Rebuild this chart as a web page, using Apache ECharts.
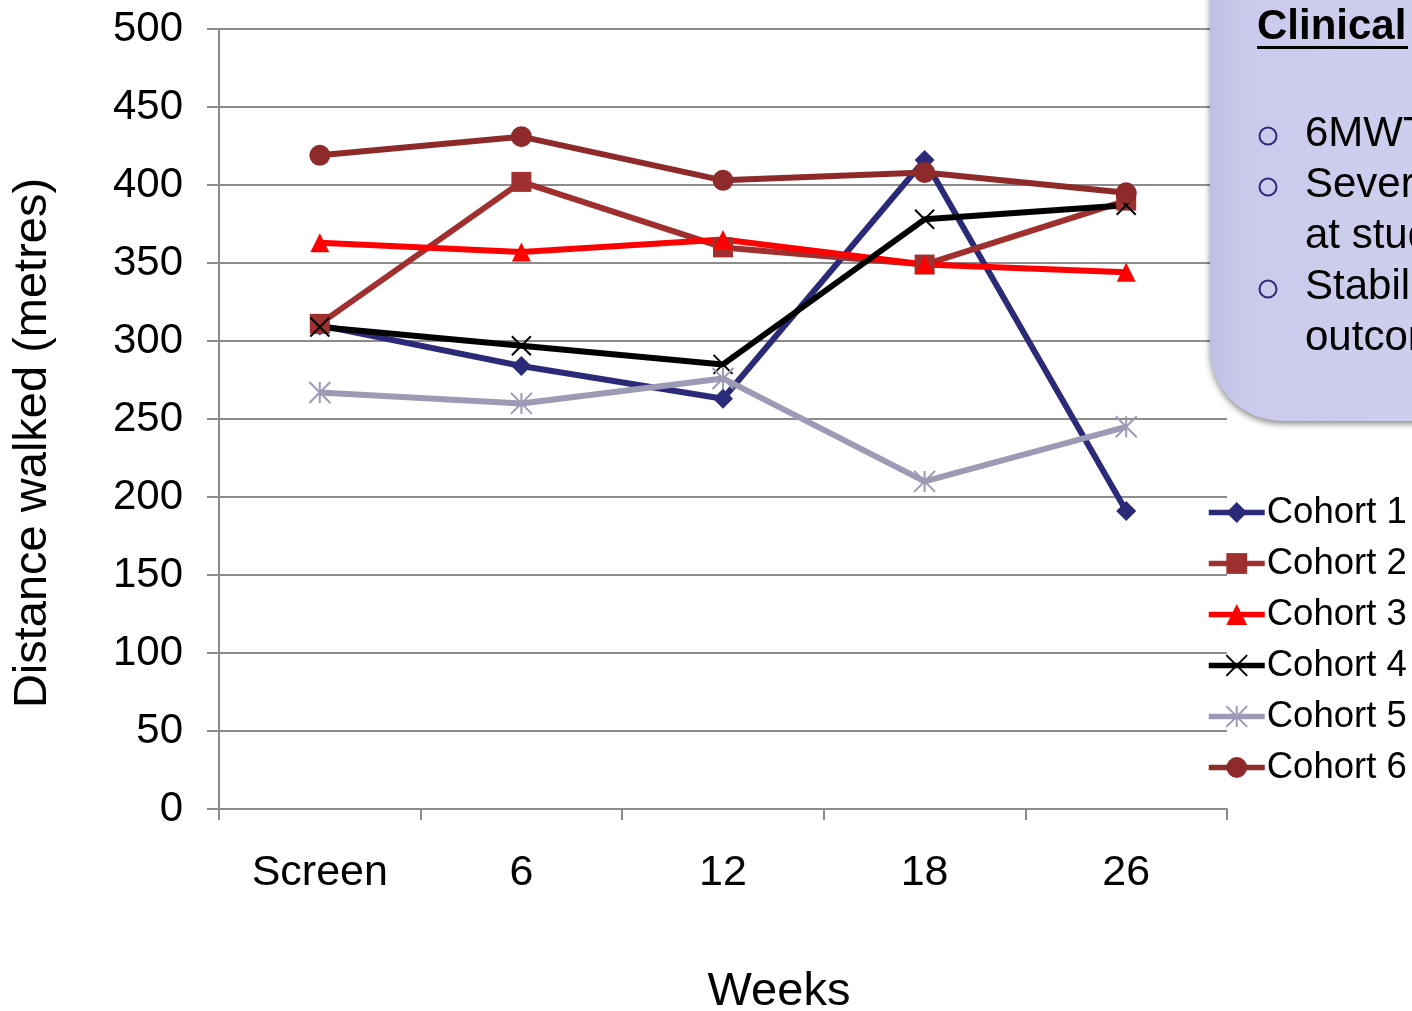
<!DOCTYPE html>
<html>
<head>
<meta charset="utf-8">
<title>Distance walked by cohort</title>
<script src="https://cdn.jsdelivr.net/npm/echarts@6/dist/echarts.min.js"></script>
<style>
  html, body { margin: 0; padding: 0; background: #ffffff; }
  #chart { width: 1412px; height: 1011px; }
</style>
</head>
<body>
<div id="chart"></div>
<script>
// Visit weeks along the x axis
const weeks = ['Screen', '6', '12', '18', '26'];

// Six-minute walk distance (metres) per cohort at each visit
const cohort1 = [310, 284, 263, 416, 191];
const cohort2 = [311, 402, 360, 349, 390];
const cohort3 = [363, 357, 365, 349, 344];
const cohort4 = [309, 297, 285, 378, 387];
const cohort5 = [267, 260, 276, 210, 245];
const cohort6 = [419, 431, 403, 408, 395];

const cohortNames = ['Cohort 1', 'Cohort 2', 'Cohort 3', 'Cohort 4', 'Cohort 5', 'Cohort 6'];

// Callout text lines
const calloutTitle = 'Clinical outcomes';
const calloutLines = ['6MWT', 'Severe', 'at study', 'Stability', 'outcome'];
const calloutBullets = [true, true, false, true, false];

const FONT = '"Liberation Sans", Arial, Helvetica, sans-serif';
const GRID = '#8c8c8c';

const crossPath = 'path://M0,0L10,10M10,0L0,10';
const starPath = 'path://M5,0L5,10M0,0L10,10M10,0L0,10';

function lineSeries(name, data, color, symbol, size, extraItem) {
  return {
    name: name,
    type: 'line',
    data: data,
    symbol: symbol,
    symbolSize: size,
    showAllSymbol: true,
    lineStyle: { color: color, width: 6 },
    itemStyle: Object.assign({ color: color }, extraItem || {}),
    emphasis: { disabled: true },
    animation: false
  };
}

const series = [
  lineSeries(cohortNames[0], cohort1, '#2b2a78', 'diamond', 20),
  lineSeries(cohortNames[1], cohort2, '#a0302f', 'rect', 20),
  lineSeries(cohortNames[2], cohort3, '#ff0000', 'triangle', 19),
  lineSeries(cohortNames[3], cohort4, '#000000', crossPath, 19,
    { color: 'rgba(0,0,0,0)', borderColor: '#000000', borderWidth: 2 }),
  lineSeries(cohortNames[4], cohort5, '#9c9ab4', starPath, 21,
    { color: 'rgba(0,0,0,0)', borderColor: '#9c9ab4', borderWidth: 2 }),
  lineSeries(cohortNames[5], cohort6, '#8f2a2a', 'circle', 21)
];

// Callout panel pieces
const calloutGraphics = [
  {
    type: 'rect',
    z: 20,
    shape: { x: 1210, y: -40, width: 320, height: 461, r: [20, 20, 20, 72] },
    style: {
      fill: {
        type: 'linear', x: 0, y: 0, x2: 1, y2: 0,
        colorStops: [
          { offset: 0, color: '#bfbfe4' },
          { offset: 0.12, color: '#cacaec' },
          { offset: 1, color: '#d0d0ee' }
        ]
      },
      shadowBlur: 6,
      shadowColor: 'rgba(0,0,0,0.45)',
      shadowOffsetX: 0,
      shadowOffsetY: 3
    }
  },
  {
    type: 'text',
    z: 21,
    x: 1257, y: 27,
    style: {
      x: 0, y: 0, text: calloutTitle,
      font: 'bold 42px ' + FONT, fill: '#000000',
      verticalAlign: 'middle'
    }
  },
  {
    type: 'rect',
    z: 21,
    shape: { x: 1257, y: 46, width: 151, height: 3 },
    style: { fill: '#000000' }
  }
];

calloutLines.forEach(function (txt, i) {
  const cy = 134 + i * 51;
  calloutGraphics.push({
    type: 'text',
    z: 21,
    x: 1305, y: cy,
    style: {
      x: 0, y: 0, text: txt,
      font: '42px ' + FONT, fill: '#000000',
      verticalAlign: 'middle'
    }
  });
  if (calloutBullets[i]) {
    calloutGraphics.push({
      type: 'circle',
      z: 21,
      shape: { cx: 1268, cy: cy + 2, r: 8.5 },
      style: { fill: 'none', stroke: '#2b2a78', lineWidth: 2 }
    });
  }
});

const option = {
  backgroundColor: '#ffffff',
  animation: false,
  textStyle: { fontFamily: FONT },
  grid: { left: 219, right: 185, top: 29, bottom: 202, containLabel: false },
  xAxis: {
    type: 'category',
    data: weeks,
    boundaryGap: true,
    axisLine: { show: true, lineStyle: { color: GRID, width: 2 } },
    axisTick: { show: true, alignWithLabel: false, length: 11, lineStyle: { color: GRID, width: 2 } },
    axisLabel: { fontSize: 43, color: '#000000', margin: 43, fontFamily: FONT },
    splitLine: { show: false }
  },
  yAxis: {
    type: 'value',
    min: 0,
    max: 500,
    interval: 50,
    axisLine: { show: true, lineStyle: { color: GRID, width: 2 } },
    axisTick: { show: true, length: 12, lineStyle: { color: GRID, width: 2 } },
    axisLabel: { fontSize: 42, color: '#000000', margin: 36, fontFamily: FONT },
    splitLine: { show: true, lineStyle: { color: GRID, width: 2 } }
  },
  legend: {
    orient: 'vertical',
    left: 1206,
    top: 494,
    padding: 0,
    itemWidth: 56,
    itemHeight: 26,
    itemGap: 14,
    selectedMode: false,
    data: cohortNames,
    lineStyle: { width: 5.5 },
    textStyle: { fontSize: 36.5, color: '#000000', fontFamily: FONT, lineHeight: 36, padding: [0, 0, 0, -3] }
  },
  graphic: [
    {
      type: 'text',
      x: 779, y: 992,
      style: {
        x: 0, y: 0, text: 'Weeks',
        font: '47px ' + FONT, fill: '#000000',
        align: 'center', verticalAlign: 'middle'
      }
    },
    {
      type: 'text',
      x: 33, y: 443,
      rotation: Math.PI / 2,
      style: {
        x: 0, y: 0, text: 'Distance walked (metres)',
        font: '47px ' + FONT, fill: '#000000',
        align: 'center', verticalAlign: 'middle'
      }
    }
  ].concat(calloutGraphics),
  series: series
};

const chart = echarts.init(document.getElementById('chart'), null, { renderer: 'canvas' });
chart.setOption(option);
</script>
</body>
</html>
